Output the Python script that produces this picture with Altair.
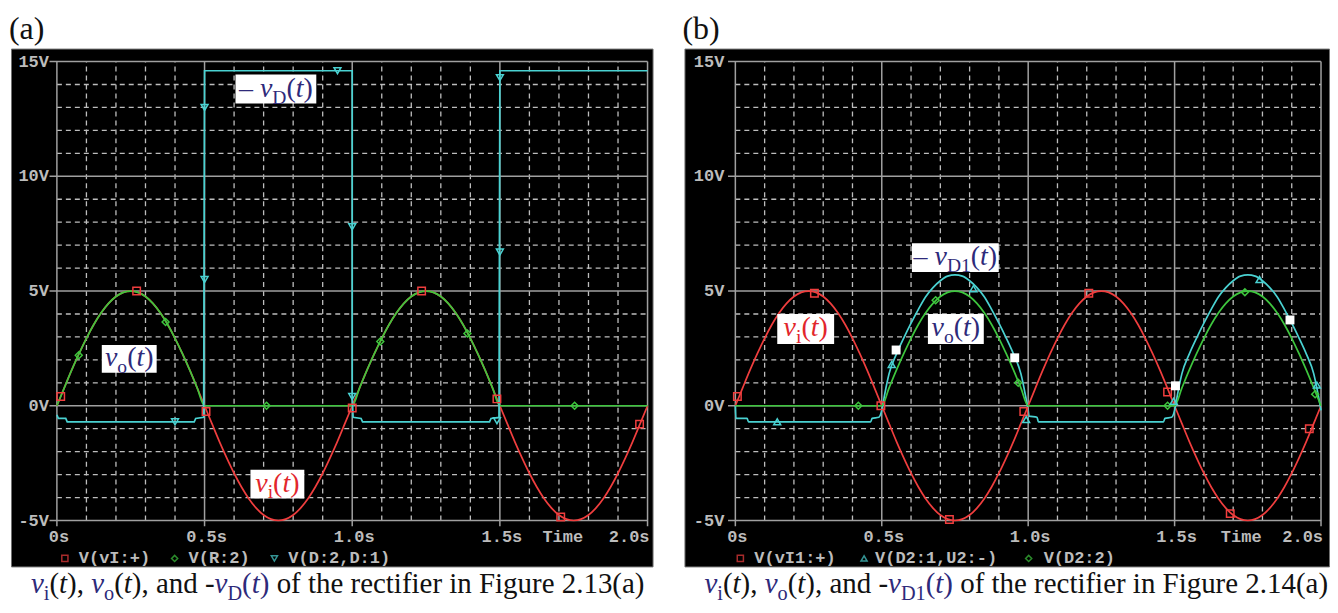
import altair as alt
import pandas as pd

# ---------------- data ----------------
T = [0.0, 0.025, 0.05, 0.075, 0.1, 0.125, 0.15, 0.175, 0.2, 0.225, 0.25, 0.275, 0.3, 0.325, 0.35, 0.375,
     0.4, 0.425, 0.45, 0.475, 0.5, 0.525, 0.55, 0.575, 0.6, 0.625, 0.65, 0.675, 0.7, 0.725, 0.75, 0.775,
     0.8, 0.825, 0.85, 0.875, 0.9, 0.925, 0.95, 0.975, 1.0, 1.025, 1.05, 1.075, 1.1, 1.125, 1.15, 1.175,
     1.2, 1.225, 1.25, 1.275, 1.3, 1.325, 1.35, 1.375, 1.4, 1.425, 1.45, 1.475, 1.5, 1.525, 1.55, 1.575,
     1.6, 1.625, 1.65, 1.675, 1.7, 1.725, 1.75, 1.775, 1.8, 1.825, 1.85, 1.875, 1.9, 1.925, 1.95, 1.975, 2.0]

VI = [0.0, 0.78, 1.55, 2.27, 2.94, 3.54, 4.05, 4.46, 4.76, 4.94, 5.0, 4.94, 4.76, 4.46, 4.05, 3.54,
      2.94, 2.27, 1.55, 0.78, 0.0, -0.78, -1.55, -2.27, -2.94, -3.54, -4.05, -4.46, -4.76, -4.94, -5.0, -4.94,
      -4.76, -4.46, -4.05, -3.54, -2.94, -2.27, -1.55, -0.78, 0.0, 0.78, 1.55, 2.27, 2.94, 3.54, 4.05, 4.46,
      4.76, 4.94, 5.0, 4.94, 4.76, 4.46, 4.05, 3.54, 2.94, 2.27, 1.55, 0.78, 0.0, -0.78, -1.55, -2.27,
      -2.94, -3.54, -4.05, -4.46, -4.76, -4.94, -5.0, -4.94, -4.76, -4.46, -4.05, -3.54, -2.94, -2.27, -1.55, -0.78, 0.0]

VO_A = [0.0, 0.78, 1.55, 2.27, 2.94, 3.54, 4.05, 4.46, 4.76, 4.94, 5.0, 4.94, 4.76, 4.46, 4.05, 3.54,
        2.94, 2.27, 1.55, 0.78, 0.0, 0.0, 0.0, 0.0, 0.0, 0.0, 0.0, 0.0, 0.0, 0.0, 0.0, 0.0,
        0.0, 0.0, 0.0, 0.0, 0.0, 0.0, 0.0, 0.0, 0.0, 0.78, 1.55, 2.27, 2.94, 3.54, 4.05, 4.46,
        4.76, 4.94, 5.0, 4.94, 4.76, 4.46, 4.05, 3.54, 2.94, 2.27, 1.55, 0.78, 0.0, 0.0, 0.0, 0.0,
        0.0, 0.0, 0.0, 0.0, 0.0, 0.0, 0.0, 0.0, 0.0, 0.0, 0.0, 0.0, 0.0, 0.0, 0.0, 0.0, 0.0]

VO_B = [0.0, 0.0, 0.0, 0.0, 0.0, 0.0, 0.0, 0.0, 0.0, 0.0, 0.0, 0.0, 0.0, 0.0, 0.0, 0.0,
        0.0, 0.0, 0.0, 0.0, 0.0, 0.78, 1.55, 2.27, 2.94, 3.54, 4.05, 4.46, 4.76, 4.94, 5.0, 4.94,
        4.76, 4.46, 4.05, 3.54, 2.94, 2.27, 1.55, 0.78, 0.0, 0.0, 0.0, 0.0, 0.0, 0.0, 0.0, 0.0,
        0.0, 0.0, 0.0, 0.0, 0.0, 0.0, 0.0, 0.0, 0.0, 0.0, 0.0, 0.0, 0.0, 0.78, 1.55, 2.27,
        2.94, 3.54, 4.05, 4.46, 4.76, 4.94, 5.0, 4.94, 4.76, 4.46, 4.05, 3.54, 2.94, 2.27, 1.55, 0.78, 0.0]

ND_A_T = [0.0, 0.005, 0.03, 0.035, 0.465, 0.47, 0.497, 0.5, 1.0, 1.0, 1.003, 1.03, 1.035,
          1.465, 1.47, 1.497, 1.5, 2.0]
ND_A_V = [-0.4, -0.55, -0.55, -0.7, -0.7, -0.55, -0.5, 14.6, 14.6, 0.4, -0.5, -0.55, -0.7,
          -0.7, -0.55, -0.5, 14.6, 14.6]

ND_B_T = [0.0, 0.002, 0.04, 0.045, 0.462, 0.467, 0.49, 0.5, 0.51, 0.525, 0.55, 0.575, 0.6, 0.625,
          0.65, 0.675, 0.7, 0.725, 0.75, 0.775, 0.8, 0.825, 0.85, 0.875, 0.9, 0.925, 0.95, 0.975,
          0.99, 1.0, 1.003, 1.03, 1.035, 1.462, 1.467, 1.49, 1.5, 1.51, 1.525, 1.55, 1.575, 1.6,
          1.625, 1.65, 1.675, 1.7, 1.725, 1.75, 1.775, 1.8, 1.825, 1.85, 1.875, 1.9, 1.925, 1.95,
          1.975, 1.99, 2.0]
ND_B_V = [0.0, -0.55, -0.55, -0.7, -0.7, -0.55, -0.5, -0.2, 0.5, 1.4, 2.25, 2.95, 3.6, 4.2,
          4.75, 5.15, 5.45, 5.65, 5.7, 5.65, 5.45, 5.15, 4.75, 4.2, 3.6, 2.95, 2.25, 1.4,
          0.5, -0.2, -0.45, -0.5, -0.7, -0.7, -0.55, -0.5, -0.2, 0.5, 1.4, 2.25, 2.95, 3.6,
          4.2, 4.75, 5.15, 5.45, 5.65, 5.7, 5.65, 5.45, 5.15, 4.75, 4.2, 3.6, 2.95, 2.25,
          1.4, 0.5, -0.2]

# sample markers
SQ_A_T = [0.013, 0.27, 0.505, 1.0, 1.235, 1.49, 1.706, 1.973]
SQ_A_V = [0.4, 5.0, -0.25, -0.1, 5.0, 0.3, -4.85, -0.8]
DM_A_T = [0.074, 0.368, 0.71, 1.095, 1.39, 1.753]
DM_A_V = [2.2, 3.65, 0.0, 2.8, 3.15, 0.0]
TR_A_T = [0.40, 0.5, 0.5, 0.95, 1.0, 1.0, 1.49, 1.5, 1.5]
TR_A_V = [-0.7, 13.0, 5.5, 14.6, 7.8, 0.4, -0.65, 6.7, 14.3]

SQ_B_T = [0.007, 0.27, 0.497, 0.731, 0.985, 1.207, 1.476, 1.69, 1.96]
SQ_B_V = [0.4, 4.9, 0.0, -4.96, -0.25, 4.9, 0.6, -4.7, -1.0]
DM_B_T = [0.42, 0.684, 0.966, 1.476, 1.74, 1.98]
DM_B_V = [0.0, 4.6, 1.0, 0.0, 4.95, 0.5]
TR_B_T = [0.143, 0.534, 0.813, 0.993, 1.497, 1.79, 1.986]
TR_B_V = [-0.7, 1.8, 5.1, -0.6, 0.2, 5.5, 0.9]
WS_B_T = [0.549, 0.954, 1.503, 1.894]
WS_B_V = [2.43, 2.09, 0.87, 3.74]

X_MAJOR = [0.0, 0.5, 1.0, 1.5, 2.0]
X_MINOR = [0.1, 0.2, 0.3, 0.4, 0.6, 0.7, 0.8, 0.9, 1.1, 1.2, 1.3, 1.4, 1.6, 1.7, 1.8, 1.9]
Y_MAJOR = [-5, 0, 5, 10, 15]
Y_MINOR = [-4, -3, -2, -1, 1, 2, 3, 4, 6, 7, 8, 9, 11, 12, 13, 14]
Y_LABELS = ["-5V", "0V", "5V", "10V", "15V"]
X_LABELS = ["0s", "0.5s", "1.0s", "1.5s"]
X_LAST = "2.0s"
X_TITLE = "Time"
LEGEND_A = ["V(vI:+)", "V(R:2)", "V(D:2,D:1)"]
LEGEND_B = ["V(vI1:+)", "V(D2:1,U2:-)", "V(D2:2)"]

# ---------------- styling ----------------
RED = "#f03e3e"
GREEN = "#3ec63e"
CYAN = "#4ad2d2"
NAVY = "#2e2a7a"
RTXT = "#e2262c"
INK = "#111111"
MAJ = "#a0a0a0"
MIN = "#bdbdbd"
LAB = "#bcbcbc"
MONO = "Liberation Mono"
SERIF = "Liberation Serif"

H = 519
Y0PX = 358.0
PPV = 23.0
YDOM = [-(H - Y0PX) / PPV, Y0PX / PPV]

W_REG = {' ': 0.25, '(': 0.333, ')': 0.333, ',': 0.25, '-': 0.333, '.': 0.25, '–': 0.5,
         'a': 0.444, 'b': 0.5, 'c': 0.444, 'd': 0.5, 'e': 0.444, 'f': 0.333, 'g': 0.5, 'h': 0.5,
         'i': 0.278, 'n': 0.5, 'o': 0.5, 'r': 0.333, 't': 0.278, 'u': 0.5, 'v': 0.5,
         'F': 0.556, 'D': 0.722, '0': 0.5, '1': 0.5, '2': 0.5, '3': 0.5, '4': 0.5}
W_IT = {'v': 0.444, 't': 0.278}


def rich(segs, x0, y0, size):
    rows = []
    x = x0
    for text, kind, color in segs:
        if kind == "sub":
            fs, dy = size * 0.7, size * 0.24
        else:
            fs, dy = size, 0.0
        tab = W_IT if kind == "i" else {}
        w = sum(tab.get(c, W_REG.get(c, 0.5)) for c in text) * fs
        lead = len(text) - len(text.lstrip(" "))
        body = text.strip(" ")
        if body:
            rows.append({"px": x + lead * 0.25 * fs, "py": y0 + dy, "txt": body,
                         "fs": fs, "col": color, "it": kind == "i"})
        x += w
    return rows, x - x0


def rich_centered(segs, box, base, size):
    _, w = rich(segs, 0, 0, size)
    cx = (box[0] + box[2]) / 2.0
    rows, _ = rich(segs, cx - w / 2.0, base, size)
    return rows


def text_layers(rows):
    out = []
    for italic in (False, True):
        sub = [r for r in rows if r["it"] == italic]
        if not sub:
            continue
        df = pd.DataFrame(sub)
        out.append(
            alt.Chart(df).mark_text(align="left", baseline="alphabetic", font=SERIF,
                                    fontStyle="italic" if italic else "normal")
            .encode(x=alt.X("px:Q", scale=None), y=alt.Y("py:Q", scale=None),
                    text="txt:N",
                    size=alt.Size("fs:Q", scale=None, legend=None),
                    color=alt.Color("col:N", scale=None, legend=None))
        )
    return out


def panel(cfg):
    W, x0, pps = cfg["W"], cfg["x0"], cfg["pps"]
    xs = alt.Scale(domain=[-x0 / pps, (W - x0) / pps], nice=False, zero=False)
    ys = alt.Scale(domain=YDOM, nice=False, zero=False)

    def X(f):
        return alt.X(f, type="quantitative", scale=xs, axis=None)

    def Y(f):
        return alt.Y(f, type="quantitative", scale=ys, axis=None)

    L = []
    vmin = pd.DataFrame({"t": X_MINOR, "a": Y_MAJOR[0], "b": Y_MAJOR[-1]})
    hmin = pd.DataFrame({"v": Y_MINOR, "a": X_MAJOR[0], "b": X_MAJOR[-1]})
    vmaj = pd.DataFrame({"t": X_MAJOR, "a": Y_MAJOR[0] - 0.25, "b": Y_MAJOR[-1]})
    hmaj = pd.DataFrame({"v": Y_MAJOR, "a": X_MAJOR[0] - 0.025, "b": X_MAJOR[-1]})
    L.append(alt.Chart(vmin).mark_rule(color=MIN, strokeWidth=1.3, strokeDash=[5, 4])
             .encode(x=X("t"), y=Y("a"), y2="b"))
    L.append(alt.Chart(hmin).mark_rule(color=MIN, strokeWidth=1.3, strokeDash=[5, 4])
             .encode(y=Y("v"), x=X("a"), x2="b"))
    L.append(alt.Chart(vmaj).mark_rule(color=MAJ, strokeWidth=1.5).encode(x=X("t"), y=Y("a"), y2="b"))
    L.append(alt.Chart(hmaj).mark_rule(color=MAJ, strokeWidth=1.5).encode(y=Y("v"), x=X("a"), x2="b"))

    # axis labels
    ylab = pd.DataFrame({"v": Y_MAJOR, "lab": Y_LABELS})
    L.append(alt.Chart(ylab).mark_text(align="right", baseline="middle", font=MONO, fontWeight="bold",
                                       fontSize=17, color=LAB)
             .encode(x=alt.value(cfg["ylab_x"]), y=Y("v"), text="lab:N"))
    xlab = pd.DataFrame({"t": X_MAJOR[:-1], "lab": X_LABELS})
    L.append(alt.Chart(xlab).mark_text(align="center", baseline="middle", font=MONO, fontWeight="bold",
                                       fontSize=17, color=LAB, dx=2)
             .encode(x=X("t"), y=alt.value(490), text="lab:N"))
    xlast = pd.DataFrame({"t": [X_MAJOR[-1]], "lab": [X_LAST]})
    L.append(alt.Chart(xlast).mark_text(align="right", baseline="middle", font=MONO, fontWeight="bold",
                                        fontSize=17, color=LAB, dx=2)
             .encode(x=X("t"), y=alt.value(490), text="lab:N"))
    xtit = pd.DataFrame({"lab": [X_TITLE]})
    L.append(alt.Chart(xtit).mark_text(align="center", baseline="middle", font=MONO, fontWeight="bold",
                                       fontSize=17, color=LAB)
             .encode(x=alt.value(cfg["time_x"]), y=alt.value(490), text="lab:N"))

    # legend
    lg = pd.DataFrame({"px": cfg["leg_mx"], "py": [511] * 3, "shape": cfg["leg_shape"],
                       "col": cfg["leg_col"]})
    L.append(alt.Chart(lg).mark_point(filled=False, size=38, strokeWidth=1.5)
             .encode(x=alt.X("px:Q", scale=None), y=alt.Y("py:Q", scale=None),
                     shape=alt.Shape("shape:N", scale=None, legend=None),
                     color=alt.Color("col:N", scale=None, legend=None)))
    lt = pd.DataFrame({"px": cfg["leg_tx"], "py": [511] * 3, "txt": cfg["legend"]})
    L.append(alt.Chart(lt).mark_text(align="left", baseline="middle", font=MONO, fontWeight="bold",
                                     fontSize=17, color=LAB)
             .encode(x=alt.X("px:Q", scale=None), y=alt.Y("py:Q", scale=None), text="txt:N"))

    # curves
    def curve(t, v, color, interp):
        df = pd.DataFrame({"t": t, "v": v, "i": list(range(len(t)))})
        return (alt.Chart(df).mark_line(color=color, strokeWidth=1.7, interpolate=interp)
                .encode(x=X("t"), y=Y("v"), order="i:Q"))

    def pts(t, v, shape, color, filled=False, size=56):
        df = pd.DataFrame({"t": t, "v": v})
        return (alt.Chart(df).mark_point(shape=shape, filled=filled, size=size, strokeWidth=1.5,
                                         color=color, opacity=1)
                .encode(x=X("t"), y=Y("v")))

    for name in cfg["order"]:
        if name == "vi":
            L.append(curve(T, VI, RED, "monotone"))
        elif name == "vo":
            L.append(curve(T, cfg["vo"], GREEN, "monotone"))
        else:
            L.append(curve(cfg["nd_t"], cfg["nd_v"], CYAN, cfg["nd_interp"]))
    L.append(pts(cfg["sq"][0], cfg["sq"][1], "square", RED))
    L.append(pts(cfg["dm"][0], cfg["dm"][1], "diamond", GREEN, size=48))
    L.append(pts(cfg["tr"][0], cfg["tr"][1], cfg["tri"], CYAN, size=48))
    if cfg.get("ws"):
        L.append(pts(cfg["ws"][0], cfg["ws"][1], "square", "#ffffff", filled=True, size=80))

    # annotation boxes + rich text
    boxes = pd.DataFrame([{"x1": b[0], "y1": b[1], "x2": b[2], "y2": b[3]} for b, _, _ in cfg["ann"]])
    L.append(alt.Chart(boxes).mark_rect(color="#ffffff")
             .encode(x=alt.X("x1:Q", scale=None), x2="x2:Q", y=alt.Y("y1:Q", scale=None), y2="y2:Q"))
    rows = []
    for box, segs, base in cfg["ann"]:
        rows += rich_centered(segs, box, base, 28)
    # panel letter and caption
    rows += rich([(cfg["letter"], "n", INK)], -2, -10, 32)[0]
    rows += rich(cfg["caption"], 20, 546, 29)[0]
    L += text_layers(rows)

    return alt.layer(*L).properties(width=W, height=H)


def cap(sub_d, fig):
    return [("v", "i", NAVY), ("i", "sub", NAVY), ("(", "n", INK), ("t", "i", INK), ("), ", "n", INK),
            ("v", "i", NAVY), ("o", "sub", NAVY), ("(", "n", INK), ("t", "i", INK), ("), and -", "n", INK),
            ("v", "i", NAVY), (sub_d, "sub", NAVY), ("(", "n", NAVY), ("t", "i", NAVY), (")", "n", NAVY),
            (" of the rectifier in Figure " + fig, "n", INK)]


def lab(sub, color, dash=False):
    s = []
    if dash:
        s.append(("– ", "n", color))
    s += [("v", "i", color), (sub, "sub", color), ("(", "n", color), ("t", "i", color), (")", "n", color)]
    return s


cfgA = dict(W=643, x0=46, pps=296.0, ylab_x=38, time_x=553,
            leg_mx=[54, 164, 264], leg_tx=[68, 178, 278], leg_shape=["square", "diamond", "triangle-down"],
            leg_col=[RED, GREEN, CYAN], legend=LEGEND_A,
            order=["vi", "vo", "nd"], vo=VO_A, nd_t=ND_A_T, nd_v=ND_A_V, nd_interp="linear",
            sq=(SQ_A_T, SQ_A_V), dm=(DM_A_T, DM_A_V), tr=(TR_A_T, TR_A_V), tri="triangle-down",
            ann=[((225, 26, 306, 55), lab("D", NAVY, True), 49),
                 ((91, 297, 146, 325), lab("o", NAVY), 318),
                 ((240, 422, 294, 451), lab("i", RTXT), 444)],
            letter="(a)", caption=cap("D", "2.13(a)"))

cfgB = dict(W=646, x0=51, pps=293.5, ylab_x=40, time_x=558,
            leg_mx=[56, 180, 345], leg_tx=[70, 191, 360], leg_shape=["square", "triangle-up", "diamond"],
            leg_col=[RED, CYAN, GREEN], legend=LEGEND_B,
            order=["vi", "nd", "vo"], vo=VO_B, nd_t=ND_B_T, nd_v=ND_B_V, nd_interp="monotone",
            sq=(SQ_B_T, SQ_B_V), dm=(DM_B_T, DM_B_V), tr=(TR_B_T, TR_B_V), tri="triangle-up",
            ws=(WS_B_T, WS_B_V),
            ann=[((228, 195, 315, 224), lab("D1", NAVY, True), 217),
                 ((93, 266, 150, 296), lab("i", RTXT), 288),
                 ((244, 266, 300, 296), lab("o", NAVY), 288)],
            letter="(b)", caption=cap("D1", "2.14(a)"))

chart = (
    alt.hconcat(panel(cfgA), panel(cfgB), spacing=32, bounds="flush")
    .properties(padding={"top": 3, "left": 0, "right": 0, "bottom": 0}, background="#ffffff")
    .configure_view(fill="#000000", stroke="#707070", strokeWidth=1)
)

chart.save("out.html", embed_options={"renderer": "svg", "actions": False})
